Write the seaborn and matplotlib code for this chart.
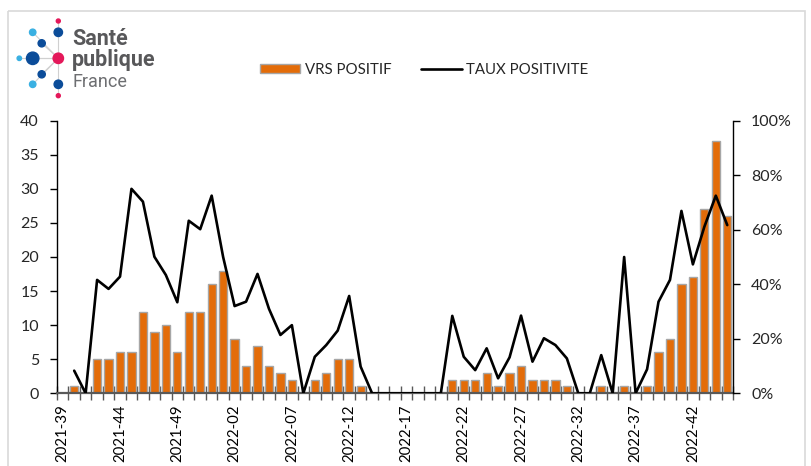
import numpy as np
import pandas as pd
import matplotlib
matplotlib.use("Agg")
import matplotlib.pyplot as plt
import seaborn as sns
from matplotlib.patches import Patch, Rectangle, Circle
from matplotlib.lines import Line2D
from matplotlib.ticker import PercentFormatter

# ---------------- data ----------------
weeks = [f"2021-{w:02d}" for w in range(39, 53)] + [f"2022-{w:02d}" for w in range(1, 46)]

vrs_positif = [0, 1, 0, 5, 5, 6, 6, 12, 9, 10, 6, 12, 12, 16,
               18, 8, 4, 7, 4, 3, 2, 0, 2, 3, 5, 5, 1,
               0, 0, 0, 0, 0, 0, 0,
               2, 2, 2, 3, 1, 3, 4, 2, 2, 2, 1,
               0, 0, 1, 0, 1, 0, 1, 6, 8, 16, 17, 27, 37, 26]

taux_positivite = [np.nan, 8.3, 0, 41.6, 38.3, 42.8, 75, 70.3, 50.1, 43.4, 33.4, 63.3, 60.2, 72.5,
                   50, 32, 33.6, 43.8, 31, 21.4, 25, 0, 13.4, 17.7, 23, 35.7, 9.8,
                   0, 0, 0, 0, 0, 0, 0,
                   28.4, 13.4, 8.5, 16.5, 5.5, 13.2, 28.5, 11.6, 20.2, 17.7, 12.8,
                   0, 0, 14, 0, 50, 0, 8.8, 33.6, 41.6, 66.9, 47.3, 61.1, 72.5, 61.7]

label_every = 5
left_ticks = [0, 5, 10, 15, 20, 25, 30, 35, 40]
right_ticks = [0, 20, 40, 60, 80, 100]

df = pd.DataFrame({"semaine": weeks, "vrs": vrs_positif, "taux": taux_positivite})

# ---------------- style ----------------
sns.set_style("white")
plt.rcParams["font.family"] = ["Lato", "DejaVu Sans"]

ORANGE = "#E36C09"
EDGE = "#A6A6A6"

W, H = 811, 466
fig = plt.figure(figsize=(W / 100, H / 100), dpi=100)

# background / frame / logo layer (pixel coordinates)
bg = fig.add_axes([0, 0, 1, 1])
bg.set_xlim(0, W)
bg.set_ylim(H, 0)
bg.axis("off")
bg.add_patch(Rectangle((7.5, 10.5), 797, 470, fill=False, ec="#D9D9D9", lw=1.2))

# logo
cx, cy = 58.3, 58.3
for (px, py) in [(32.7, 58.3), (41.7, 43.3), (41.7, 74.3), (19.3, 58.3), (32.7, 32.3), (32.7, 84.3)]:
    bg.plot([cx, px], [cy, py], color="#D0D0D0", lw=0.8, zorder=1)
bg.plot([cx, cx], [21, 95.7], color="#D0D0D0", lw=0.8, zorder=1)
dots = [
    (58.3, 21.0, 2.0, "#E4185A"),
    (32.7, 32.3, 3.2, "#3AB0E2"),
    (58.3, 32.3, 4.2, "#0B4C99"),
    (41.7, 43.3, 3.6, "#0B4C99"),
    (19.3, 58.3, 2.2, "#3AB0E2"),
    (32.7, 58.3, 6.2, "#0B4C99"),
    (58.3, 58.3, 5.2, "#E4185A"),
    (41.7, 74.3, 3.6, "#0B4C99"),
    (32.7, 84.3, 3.2, "#3AB0E2"),
    (58.3, 84.3, 4.2, "#0B4C99"),
    (58.3, 95.7, 2.0, "#E4185A"),
]
for (px, py, r, c) in dots:
    bg.add_patch(Circle((px, py), r, color=c, zorder=2))
bg.text(72, 39, "Santé", fontsize=15.5, fontweight="bold", color="#58585A",
        va="center", ha="left", family=["Roboto", "DejaVu Sans"])
bg.text(72, 60, "publique", fontsize=15.5, fontweight="bold", color="#58585A",
        va="center", ha="left", family=["Roboto", "DejaVu Sans"])
bg.text(72, 82, "France", fontsize=13, color="#6D6E71",
        va="center", ha="left", family=["Roboto", "DejaVu Sans"])

# main axes
ax = fig.add_axes([57 / W, 72.7 / H, 676 / W, 272.6 / H])
ax.set_facecolor("none")
sns.barplot(data=df, x="semaine", y="vrs", ax=ax, color=ORANGE, saturation=1,
            edgecolor=EDGE, linewidth=1, width=0.72)

ax2 = ax.twinx()
sns.pointplot(data=df, x="semaine", y="taux", ax=ax2, color="black",
              marker="", linewidth=1.9, errorbar=None)

n = len(weeks)
ax.set_xlim(-0.5, n - 0.5)
ax.set_ylim(0, 40)
ax2.set_ylim(0, 100)
ax.set_xlabel("")
ax.set_ylabel("")
ax2.set_xlabel("")
ax2.set_ylabel("")

# x ticks: marks at category boundaries, labels every 5 weeks
ax.set_xticks(np.arange(-0.5, n, 1.0))
ax.set_xticklabels([])
ax.set_xticks(np.arange(0, n, label_every), minor=True)
ax.set_xticklabels(weeks[::label_every], minor=True, rotation=90, fontsize=10.8, color="#000000")
ax.tick_params(axis="x", which="major", direction="inout", length=10, width=1, color="#595959", bottom=True)
ax.tick_params(axis="x", which="minor", length=0, pad=8, bottom=True)

ax.set_yticks(left_ticks)
ax.set_yticklabels([str(v) for v in left_ticks], fontsize=11.5)
ax.tick_params(axis="y", direction="out", length=5, width=1, color="black", pad=8, left=True)

ax2.set_yticks(right_ticks)
ax2.yaxis.set_major_formatter(PercentFormatter(100, decimals=0))
ax2.tick_params(axis="y", direction="out", length=5, width=1, color="black", pad=8, labelsize=11.5, right=True)

for a in (ax, ax2):
    a.spines["top"].set_visible(False)
    a.spines["left"].set_color("black")
    a.spines["left"].set_linewidth(1)
    a.spines["right"].set_color("black")
    a.spines["right"].set_linewidth(1)
    a.spines["bottom"].set_color("#595959")
    a.spines["bottom"].set_linewidth(1.6)
ax.spines["right"].set_visible(False)
ax2.spines["left"].set_visible(False)
ax2.spines["bottom"].set_visible(False)

handles = [Patch(facecolor=ORANGE, edgecolor=EDGE, label="VRS POSITIF"),
           Line2D([], [], color="black", lw=1.9, label="TAUX POSITIVITE")]
fig.legend(handles=handles, ncol=2, loc="center", bbox_to_anchor=(424 / W, (H - 70) / H),
           frameon=False, fontsize=10.8, handlelength=2.7, handleheight=0.6,
           handletextpad=0.3, columnspacing=2.0)

fig.savefig("out.png", dpi=100)
